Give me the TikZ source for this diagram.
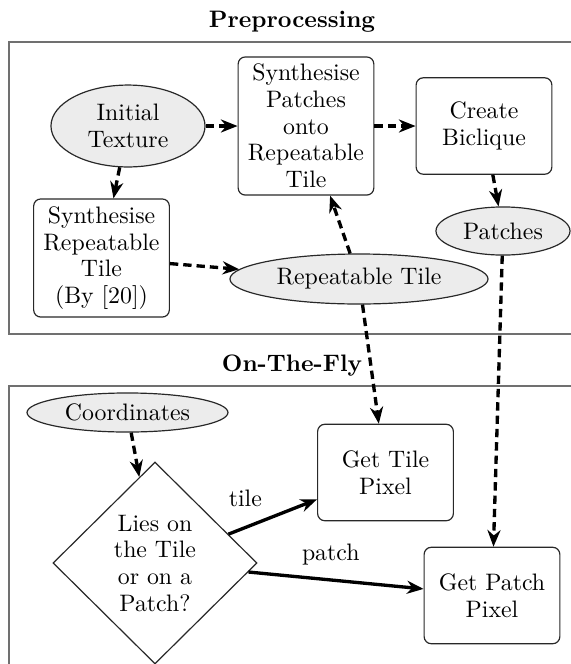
\documentclass[tikz,border=0pt]{standalone}
\usepackage{tikz}
\usetikzlibrary{positioning, arrows.meta, shapes.geometric}
\definecolor{datafill}{RGB}{236,236,236}
\definecolor{framegray}{RGB}{112,112,112}
\definecolor{nodeline}{RGB}{40,40,40}
\tikzset{
  process/.style={
    draw=nodeline, rounded corners=3pt, line width=0.5pt,
    align=center, inner sep=2.5pt,
    minimum width=57pt, minimum height=40.5pt
  },
  data/.style={
    ellipse, draw=nodeline, fill=datafill, line width=0.5pt,
    align=center, inner sep=1pt
  },
  decision/.style={
    diamond, draw=nodeline, line width=0.5pt, align=center,
    inner sep=0pt, minimum width=85.7pt, minimum height=84.8pt
  },
  flow/.style={-{Stealth[length=7pt, width=5.5pt]}, line width=1.4pt,
    dash pattern=on 3.5pt off 2.1pt},
  choice/.style={-{Stealth[length=7pt, width=5.5pt]}, line width=1.4pt},
  frame/.style={draw=framegray, line width=0.6pt},
  stage/.style={font=\bfseries}
}

\begin{document}
\begin{tikzpicture}[x=0.42pt, y=-0.42pt, font=\fontsize{10pt}{11.2pt}\selectfont]
  \useasboundingbox (0,0) rectangle (571,664);
  \clip (0,0) rectangle (571,664);

  % the two stages
  \draw[frame] (9,42) rectangle (590,334);
  \draw[frame] (9,386) rectangle (590,700);
  \node[stage] (pretitle) at (292,22) {Preprocessing};
  \node[stage] (flytitle) at (292,366) {On-The-Fly};

  % preprocessing
  \node[data, minimum width=64.7pt, minimum height=34.4pt] (texture) at (128,126) {Initial\\Texture};
  \node[process, minimum height=58pt] (patchtile) at (306,126) {Synthesise\\Patches\\onto\\Repeatable\\Tile};
  \node[process] (biclique) at (484,126) {Create\\Biclique};
  \node[process, minimum height=49.6pt] (reptile) at (101.5,258) {Synthesise\\Repeatable\\Tile\\(By [20])};
  \node[data, minimum width=108.4pt, minimum height=21pt] (tile) at (359,279) {Repeatable Tile};
  \node[data, minimum width=56.3pt, minimum height=20.2pt] (patches) at (503,231) {Patches};

  % on the fly
  \node[data, minimum width=84.4pt, minimum height=16.4pt] (coords) at (127.5,412.5) {Coordinates};
  \node[decision] (lies) at (155,563) {Lies on\\the Tile\\or on a\\Patch?};
  \node[process] (tilepix) at (385.5,472.5) {Get Tile\\Pixel};
  \node[process] (patchpix) at (492,595.5) {Get Patch\\Pixel};

  \draw[flow] (texture) -- (patchtile);
  \draw[flow] (patchtile) -- (biclique);
  \draw[flow] (texture) -- (reptile);
  \draw[flow] (biclique) -- (patches);
  \draw[flow] (reptile) -- (tile);
  \draw[flow] (tile) -- (patchtile);
  \draw[flow] (tile) -- (tilepix);
  \draw[flow] (patches) -- (patchpix);
  \draw[flow] (coords) -- (lies);

  \draw[choice] (lies) -- node[pos=0.19, above=4.5pt] {tile} (tilepix);
  \draw[choice] (lies) -- node[pos=0.47, above=2pt] {patch} (patchpix);
\end{tikzpicture}
\end{document}
